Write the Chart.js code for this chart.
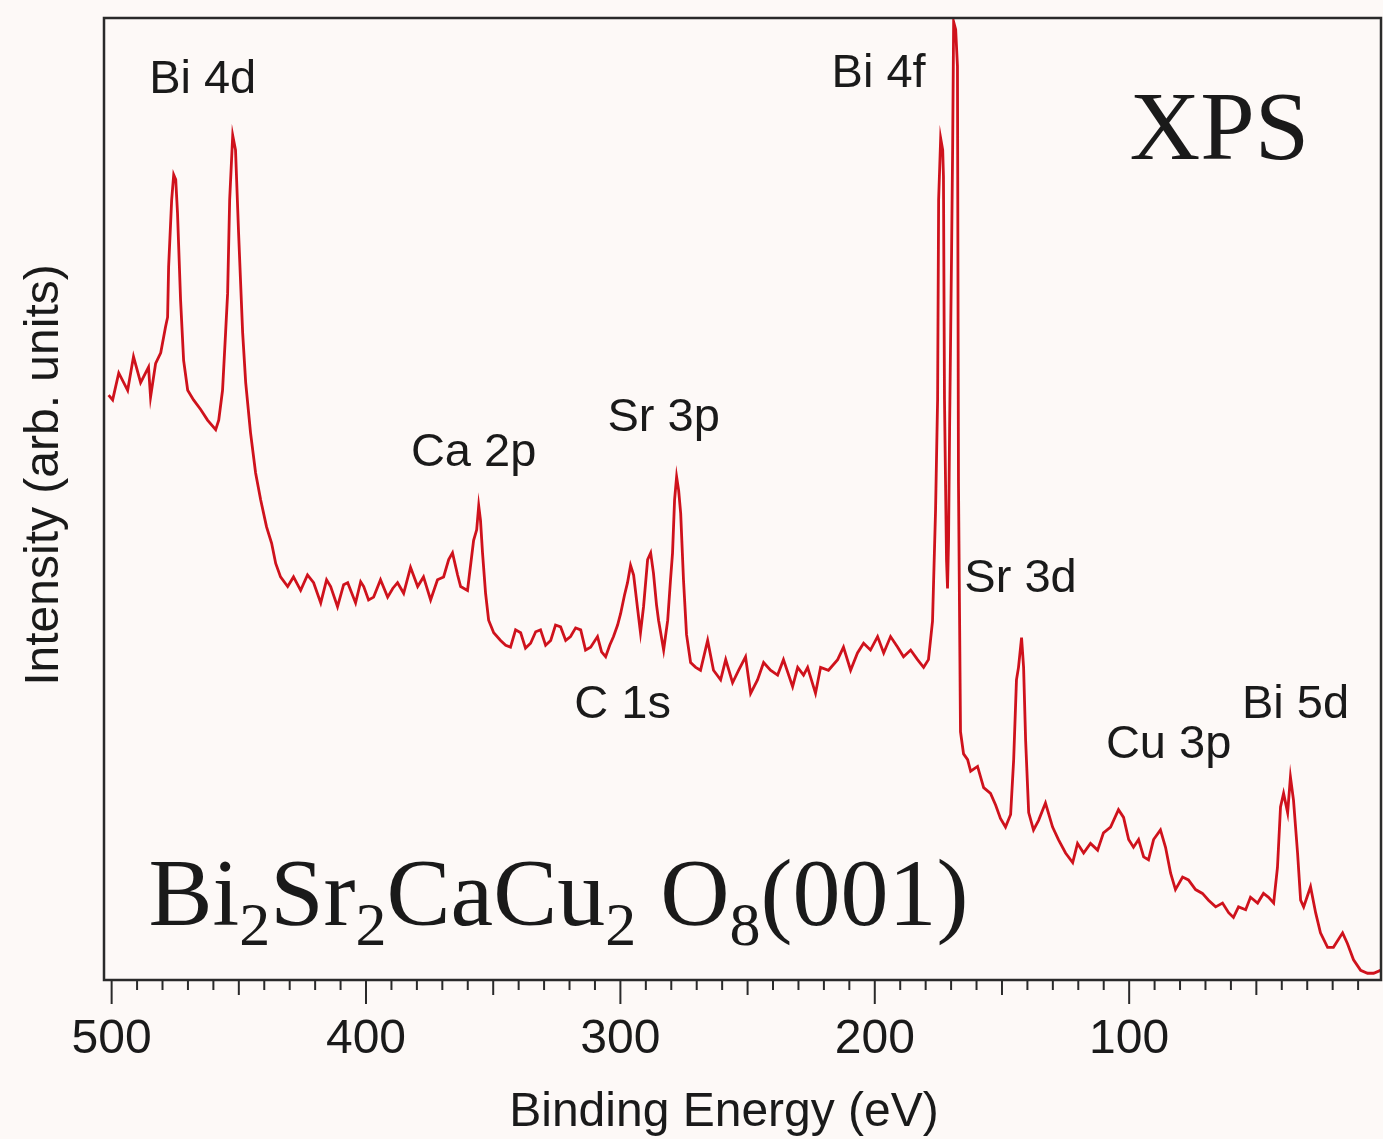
<!DOCTYPE html>
<html>
<head>
<meta charset="utf-8">
<title>XPS survey - Bi2Sr2CaCu2O8(001)</title>
<script src="https://cdn.jsdelivr.net/npm/chart.js@4.4.1/dist/chart.umd.min.js"></script>
<style>
  html, body { margin: 0; padding: 0; background: #fdf9f7; }
  #wrap { width: 1383px; height: 1139px; position: relative; }
</style>
</head>
<body>
<div id="wrap"><canvas id="xpsChart"></canvas></div>
<script>
// Survey spectrum: binding energy (eV) and intensity (arb. units, 0-100)
const bindingEnergy = [
  501.2, 499.6, 497.2, 493.7, 491.4, 488.6, 485.5, 484.7, 482.7, 480.7,
  478.8, 478.0, 477.6, 476.4, 475.6, 474.8, 474.1, 472.9, 471.7, 470.1,
  467.8, 465.0, 462.3, 459.1, 457.9, 456.4, 455.2, 454.4, 453.6, 452.4,
  451.3, 450.1, 448.5, 447.3, 445.4, 443.4, 441.4, 439.1, 437.1, 435.5,
  433.6, 430.8, 428.5, 425.7, 423.0, 420.6, 417.8, 415.5, 413.9, 411.2,
  408.8, 407.2, 404.1, 402.1, 400.9, 399.0, 397.0, 394.3, 391.5, 389.5,
  387.6, 385.2, 382.5, 379.7, 377.4, 374.6, 371.9, 369.5, 367.5, 366.0,
  364.0, 362.8, 360.1, 357.7, 356.5, 355.7, 355.0, 354.2, 353.0, 351.8,
  349.8, 347.1, 345.1, 343.2, 341.2, 339.2, 337.3, 335.3, 333.3, 331.4,
  329.4, 327.4, 325.5, 323.5, 321.5, 319.6, 317.6, 315.6, 313.7, 311.7,
  309.0, 307.4, 305.8, 304.2, 302.7, 301.1, 299.9, 298.4, 297.2, 296.0,
  294.8, 293.2, 292.1, 290.9, 289.3, 288.1, 287.0, 285.8, 285.0, 283.0,
  281.4, 280.3, 279.5, 278.7, 277.9, 277.1, 276.3, 275.2, 274.0, 272.4,
  270.4, 268.5, 265.7, 263.4, 260.6, 258.6, 255.9, 253.5, 250.8, 248.8,
  246.1, 243.7, 241.0, 238.2, 235.9, 232.3, 230.3, 228.0, 226.4, 223.3,
  221.3, 218.2, 214.6, 212.3, 209.5, 206.8, 204.4, 201.7, 198.9, 196.5,
  193.8, 191.0, 188.7, 185.9, 183.2, 180.8, 178.9, 177.3, 176.1, 175.3,
  174.9, 174.1, 173.3, 173.0, 172.6, 171.8, 171.4, 171.0, 170.6, 169.8,
  169.4, 169.0, 168.2, 167.5, 167.1, 166.3, 165.1, 163.5, 162.3, 159.6,
  157.2, 154.5, 152.5, 150.6, 148.6, 146.6, 145.4, 144.3, 143.5, 142.3,
  141.5, 140.7, 139.5, 137.6, 135.6, 132.9, 130.1, 127.8, 125.0, 122.2,
  120.3, 117.9, 115.2, 112.4, 110.1, 107.3, 104.2, 102.2, 100.2, 98.3,
  96.3, 94.3, 92.4, 90.4, 87.7, 85.7, 83.7, 81.8, 79.0, 76.7,
  73.9, 71.2, 68.8, 66.0, 63.3, 60.9, 59.0, 57.0, 54.2, 52.3,
  49.5, 47.2, 45.2, 43.2, 41.7, 40.5, 39.3, 37.7, 36.6, 35.4,
  33.8, 32.6, 31.4, 28.7, 26.7, 24.8, 22.0, 19.7, 16.1, 14.2,
  11.8, 9.0, 6.3, 3.9, 1.2
];
const intensity = [
  60.8, 60.3, 63.1, 61.3, 64.8, 62.1, 63.7, 60.6, 64.1, 65.2,
  67.9, 68.9, 74.1, 81.1, 83.7, 83.2, 79.7, 70.7, 64.4, 61.3,
  60.3, 59.3, 58.2, 57.2, 58.2, 61.3, 67.3, 71.4, 81.1, 87.8,
  86.3, 77.7, 67.3, 62.1, 56.9, 52.7, 49.9, 47.1, 45.4, 43.3,
  41.9, 40.9, 41.9, 40.5, 42.1, 41.3, 39.2, 41.6, 40.9, 38.8,
  41.1, 41.3, 39.2, 41.4, 40.9, 39.5, 39.8, 41.6, 39.8, 40.7,
  41.3, 40.2, 42.9, 40.9, 41.9, 39.5, 41.6, 41.9, 43.7, 44.4,
  42.1, 40.9, 40.5, 45.7, 46.8, 49.3, 47.8, 44.4, 40.2, 37.4,
  36.1, 35.3, 34.8, 34.6, 36.4, 36.1, 34.5, 35.0, 36.2, 36.4,
  34.8, 35.3, 36.9, 36.7, 35.3, 35.7, 36.6, 36.4, 34.3, 34.6,
  35.7, 34.1, 33.6, 34.8, 35.7, 36.9, 38.1, 40.0, 41.3, 43.1,
  42.1, 38.5, 36.1, 38.8, 43.7, 44.4, 42.3, 39.0, 37.4, 34.3,
  37.4, 41.6, 44.4, 49.9, 52.3, 50.9, 48.5, 41.6, 35.9, 33.0,
  32.5, 32.2, 35.3, 32.2, 31.2, 33.3, 30.9, 32.2, 33.6, 29.8,
  31.2, 33.0, 32.2, 31.7, 33.3, 30.5, 32.5, 31.7, 32.5, 29.8,
  32.5, 32.2, 33.3, 34.6, 32.2, 34.0, 35.0, 34.3, 35.7, 34.0,
  35.7, 34.6, 33.6, 34.3, 33.3, 32.5, 33.3, 37.3, 48.9, 60.4,
  81.1, 87.5, 86.3, 83.5, 60.4, 43.7, 40.7, 45.7, 57.0, 75.9,
  86.3, 99.6, 98.8, 95.0, 51.8, 25.8, 23.5, 22.9, 21.7, 22.2,
  20.0, 19.4, 18.2, 16.8, 15.9, 17.2, 22.9, 31.2, 32.5, 35.6,
  32.5, 24.9, 17.4, 15.6, 16.6, 18.4, 15.9, 14.6, 13.2, 12.2,
  14.2, 13.2, 14.2, 13.5, 15.3, 15.9, 17.7, 16.9, 14.6, 13.8,
  14.6, 12.8, 12.5, 14.6, 15.6, 13.8, 11.1, 9.4, 10.7, 10.4,
  9.4, 9.0, 8.3, 7.6, 8.0, 7.0, 6.5, 7.6, 7.3, 8.6,
  8.0, 9.0, 8.6, 8.0, 11.7, 18.0, 19.4, 17.4, 21.1, 18.7,
  13.2, 8.3, 7.6, 9.7, 7.0, 4.9, 3.4, 3.4, 4.9, 3.8,
  2.1, 1.0, 0.7, 0.7, 1.0
];
// Labelled energies on the bottom axis
const tickLabels = [500, 400, 300, 200, 100];

// Peak assignments, placed in energy / intensity units
const peakLabels = [
  { text: 'Bi 4d', e: 464.2, i: 93.6 },
  { text: 'Bi 4f', e: 198.5, i: 94.2 },
  { text: 'Ca 2p', e: 357.7, i: 54.8 },
  { text: 'Sr 3p', e: 283.0, i: 58.4 },
  { text: 'C 1s', e: 299.1, i: 28.6 },
  { text: 'Sr 3d', e: 142.7, i: 41.7 },
  { text: 'Cu 3p', e: 84.5, i: 24.4 },
  { text: 'Bi 5d', e: 34.6, i: 28.6 }
];

// Sample formula, drawn piece by piece so the subscripts drop below the baseline
const formulaParts = [
  ['Bi', false], ['2', true], ['Sr', false], ['2', true], ['CaCu', false],
  ['2', true], [' O', false], ['8', true], ['(001)', false]
];

const INK = '#1a1a1a';

const framePlugin = {
  id: 'framePlugin',
  afterDraw(chart) {
    const { ctx, chartArea: a, scales: { x, y } } = chart;
    ctx.save();

    // plot frame
    ctx.strokeStyle = '#2a2a2a';
    ctx.lineWidth = 2.5;
    ctx.strokeRect(a.left, a.top, a.right - a.left, a.bottom - a.top);

    // tick marks: long every 100 eV, medium every 50, short every 10
    ctx.lineWidth = 2;
    x.ticks.forEach(t => {
      const px = x.getPixelForValue(t.value);
      const len = t.value % 100 === 0 ? 24 : (t.value % 50 === 0 ? 15 : 10);
      ctx.beginPath();
      ctx.moveTo(px, a.bottom);
      ctx.lineTo(px, a.bottom + len);
      ctx.stroke();
    });

    // peak labels
    ctx.fillStyle = INK;
    ctx.textAlign = 'center';
    ctx.textBaseline = 'middle';
    ctx.font = '47px "Liberation Sans", Arial, sans-serif';
    peakLabels.forEach(p => {
      ctx.fillText(p.text, x.getPixelForValue(p.e), y.getPixelForValue(p.i));
    });

    // axis titles
    ctx.font = '48px "Liberation Sans", Arial, sans-serif';
    ctx.fillText('Binding Energy (eV)', a.left + 620, a.bottom + 133);
    ctx.save();
    ctx.translate(45, a.top + 457);
    ctx.rotate(-Math.PI / 2);
    ctx.fillText('Intensity (arb. units)', 0, 0);
    ctx.restore();

    // method tag
    ctx.font = '98px "Liberation Serif", "Times New Roman", serif';
    ctx.fillText('XPS', x.getPixelForValue(64.5), y.getPixelForValue(88.0));

    // formula
    ctx.textAlign = 'left';
    ctx.textBaseline = 'alphabetic';
    let fx = x.getPixelForValue(485.5);
    const fy = y.getPixelForValue(5.7);
    formulaParts.forEach(([txt, sub]) => {
      ctx.font = sub ? '62px "Liberation Serif", serif' : '96px "Liberation Serif", serif';
      ctx.fillText(txt, fx, sub ? fy + 20 : fy);
      fx += ctx.measureText(txt).width;
    });

    ctx.restore();
  }
};

new Chart(document.getElementById('xpsChart'), {
  type: 'line',
  data: {
    datasets: [{
      label: 'XPS',
      data: bindingEnergy.map((e, k) => ({ x: e, y: intensity[k] })),
      borderColor: '#cf121c',
      borderWidth: 2.8,
      pointRadius: 0,
      tension: 0,
      fill: false
    }]
  },
  options: {
    responsive: true,
    maintainAspectRatio: false,
    animation: false,
    devicePixelRatio: 1,
    layout: { padding: { top: 18, right: 2, left: 0, bottom: 0 } },
    plugins: {
      legend: { display: false },
      tooltip: { enabled: false }
    },
    scales: {
      x: {
        type: 'linear',
        reverse: true,
        min: 1,
        max: 503,
        afterFit: s => { s.height = 159; },
        grid: { display: false, drawTicks: false },
        border: { display: false },
        ticks: {
          stepSize: 10,
          includeBounds: false,
          autoSkip: false,
          maxRotation: 0,
          padding: 0,
          color: INK,
          // tall line box pushes the labels down without widening the side padding
          font: { family: '"Liberation Sans", Arial, sans-serif', size: 48, lineHeight: 2.5 },
          callback: v => tickLabels.includes(v) ? String(v) : ''
        }
      },
      y: {
        min: 0,
        max: 100,
        afterFit: s => { s.width = 104; },
        grid: { display: false, drawTicks: false },
        border: { display: false },
        ticks: { display: false }
      }
    }
  },
  plugins: [framePlugin]
});
</script>
</body>
</html>
